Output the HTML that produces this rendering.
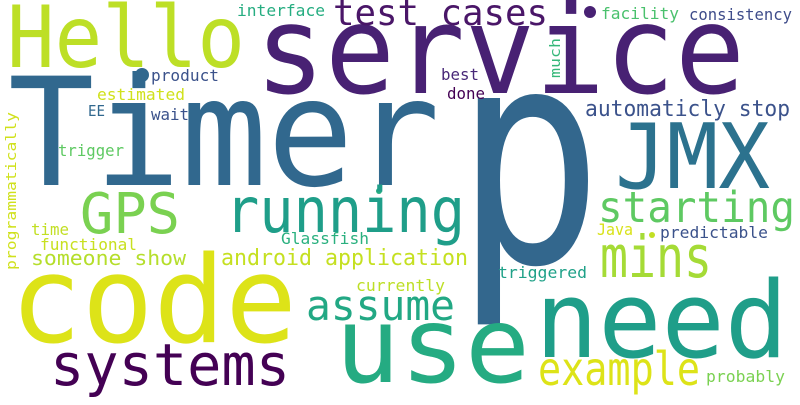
<!DOCTYPE html>
<html><head><meta charset="utf-8"><style>
html,body{margin:0;padding:0;background:#fff}
svg text{font-family:"DejaVu Sans Mono","Liberation Mono",monospace}
</style></head><body>
<svg id="wc" width="800" height="400" viewBox="0 0 800 400" xmlns="http://www.w3.org/2000/svg">
<rect width="800" height="400" fill="#fff"/>
<circle cx="142" cy="75" r="7" fill="#31688e"/>
<circle cx="590" cy="12" r="6" fill="#482173"/>
<circle cx="379" cy="191" r="3" fill="#26ad81"/>
<circle cx="652" cy="235" r="3" fill="#c2df23"/>
</svg>
<script>
const words=["Hello","service","Timer","p","test cases","interface","product","estimated","EE","wait","trigger","facility","consistency","best","done","automaticly stop","JMX","starting","GPS","running","time","functional","Glassfish","Java","predictable","mins","someone show","android application","triggered","code","currently","assume","use","need","systems","example","probably","programmatically","much"];
const sizes=[86,122,150,300,36,16,16,16,15,16,16,16,16,16,16,22,90,43,56,62,16,16,16,16,16,58,20,22,16,120,16,42,105,106,58,46,16,14,14];
const colors=["#bddf26","#482173","#31688e","#33678d","#4a1668","#26ad81","#3b528b","#d0e11c","#31688e","#3b528b","#5ec962","#4ac16d","#3e4c8a","#482878","#440154","#3b528b","#2c728e","#5ec962","#7ad151","#1f9e89","#c2df23","#c8e020","#2ab07f","#d8e219","#3b528b","#a5db36","#b5de2b","#c5e021","#1fa188","#dde318","#bddf26","#22a884","#25ab82","#1f9e89","#440154","#dde318","#7ad151","#d0e11c","#35b779"];
// layout: [x-left, baseline, width, rotated]
const layout=[[7,67,238,0],[255,93,490,0],[8,185,432,0],[455,262,148,0],[333,25,215,0],[237,16,88,0],[151,81,68,0],[97,100,88,0],[88,116,17,0],[151,120,38,0],[58,156,66,0],[601,19,78,0],[689,20,103,0],[441,80,38,0],[447,99,38,0],[585,116,205,0],[615,188,155,0],[598,222,197,0],[80,233,100,0],[225,232,240,0],[31,235,38,0],[40,250,97,0],[281,244,88,0],[597,235,36,0],[660,238,108,0],[600,277,112,0],[31,265,155,0],[221,265,247,0],[498,278,89,0],[10,342,287,0],[356,291,89,0],[306,320,149,0],[335,382,195,0],[535,357,253,0],[50,385,240,0],[538,385,162,0],[706,382,79,0],[16,270,158,1],[560,78,40,1]];
const svg=document.getElementById('wc');
const NS="http://www.w3.org/2000/svg";
for(let i=0;i<words.length;i++){
  const t=document.createElementNS(NS,'text');
  const L=layout[i];
  
  
  t.setAttribute('font-size',sizes[i]);
  t.setAttribute('fill',colors[i]);
  t.setAttribute('textLength',L[2]);
  t.setAttribute('lengthAdjust','spacingAndGlyphs');
  if(L[3]){
    t.setAttribute('x',0);t.setAttribute('y',0);
    t.setAttribute('transform','translate('+L[0]+','+L[1]+') rotate(-90)');
  }else{
    t.setAttribute('x',L[0]);t.setAttribute('y',L[1]);
  }
  t.textContent=words[i];
  svg.appendChild(t);
}
</script>
</body></html>
